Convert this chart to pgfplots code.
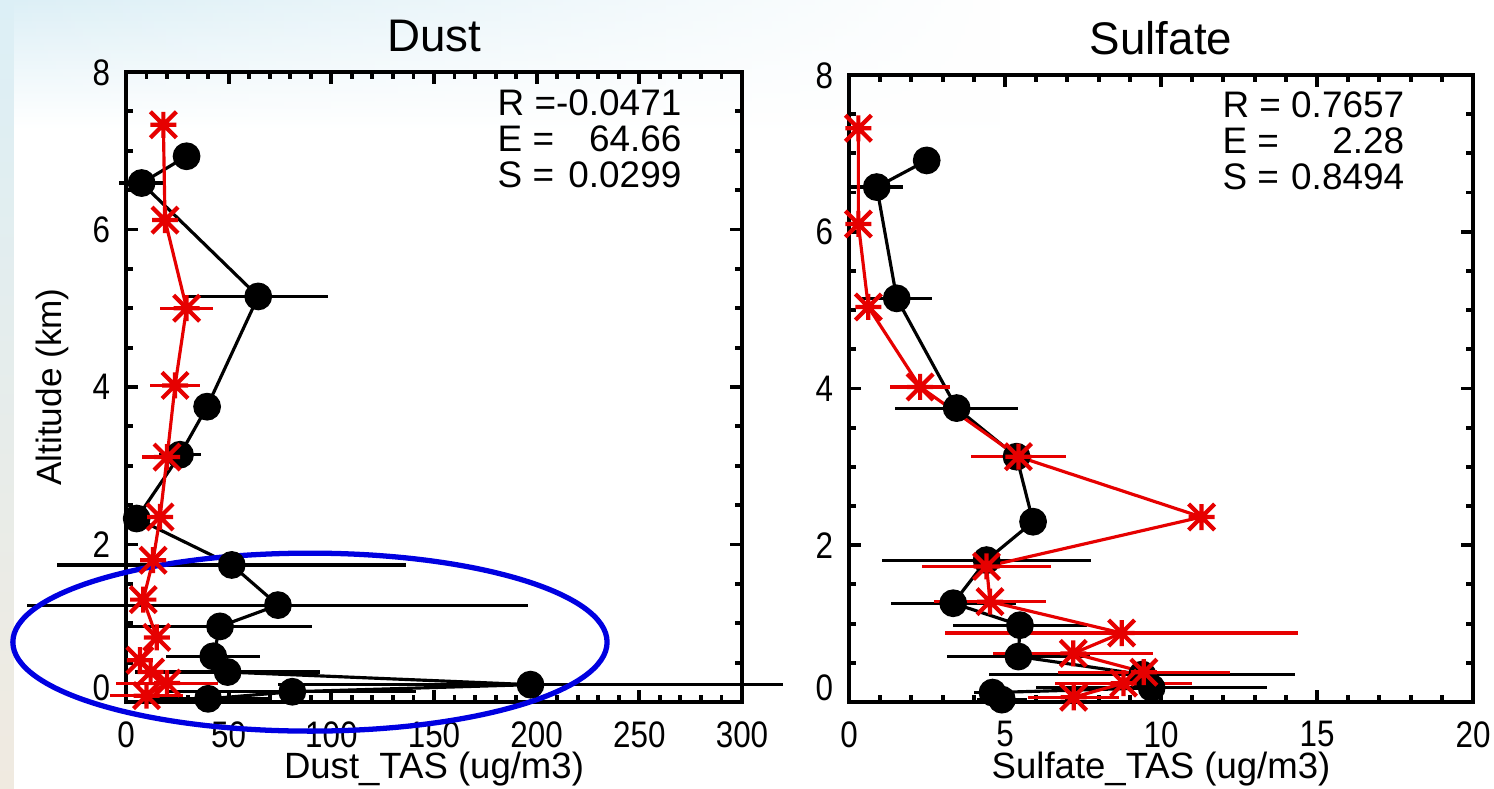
\documentclass[border=0pt]{standalone}
\usepackage{pgfplots}
\pgfplotsset{compat=1.18}
\usepackage{graphicx}
\usepackage{fontspec}
\setmainfont{Liberation Sans}
\usetikzlibrary{fadings}

\pgfdeclareplotmark{idlstar}{%
  \pgfpathmoveto{\pgfqpoint{-\pgfplotmarksize}{0pt}}\pgfpathlineto{\pgfqpoint{\pgfplotmarksize}{0pt}}%
  \pgfpathmoveto{\pgfqpoint{0pt}{-\pgfplotmarksize}}\pgfpathlineto{\pgfqpoint{0pt}{\pgfplotmarksize}}%
  \pgfpathmoveto{\pgfqpoint{-\pgfplotmarksize}{-\pgfplotmarksize}}\pgfpathlineto{\pgfqpoint{\pgfplotmarksize}{\pgfplotmarksize}}%
  \pgfpathmoveto{\pgfqpoint{-\pgfplotmarksize}{\pgfplotmarksize}}\pgfpathlineto{\pgfqpoint{\pgfplotmarksize}{-\pgfplotmarksize}}%
  \pgfusepathqstroke}

\definecolor{ellblue}{RGB}{0,0,225}
\definecolor{idlred}{RGB}{230,0,0}
\definecolor{bgtint}{RGB}{220,239,246}
\definecolor{bgbeige}{RGB}{240,234,224}

\pgfplotstableread{
x y ex
29.5 6.93 0
7.6 6.59 11
64.4 5.15 34
39.5 3.75 0
26.3 3.14 10
5.2 2.33 0
51.5 1.74 85
74 1.23 122
45.8 0.96 45
42.5 0.58 23
49.5 0.38 45
197 0.22 123
81 0.13 60
40 0.04 30
}\dustobs
\pgfplotstableread{
x y ex
18.2 7.33 0
19 6.12 0
29.5 5.0 13
23.9 4.02 12
20 3.11 12
16.6 2.35 5
13.2 1.8 4
8.4 1.3 4
15 0.82 4
6.8 0.53 4
12 0.38 5
20 0.24 25
10 0.08 18
}\dustmod
\pgfplotstableread{
x y ex
2.49 6.91 0
0.89 6.57 0.83
1.53 5.15 1.12
3.45 3.75 1.97
5.37 3.13 0
5.9 2.30 0
4.41 1.81 3.36
3.34 1.26 2.0
5.48 0.98 2.16
5.43 0.58 2.28
9.4 0.35 4.9
9.7 0.18 3.7
4.6 0.12 0.6
4.9 0.03 0.8
}\sulfobs
\pgfplotstableread{
x y ex
0.3 7.32 0
0.3 6.1 0
0.62 5.04 0
2.28 4.02 0.96
5.43 3.13 1.52
11.3 2.36 0
4.41 1.73 2.07
4.52 1.28 1.8
8.74 0.88 5.65
7.19 0.62 2.56
9.45 0.38 2.75
8.8 0.24 2.2
7.2 0.06 1.45
}\sulfmod

\pgfplotsset{
  idlaxis/.style={
    scale only axis,
    clip=false,
    ymin=0, ymax=8,
    ytick={0,2,4,6,8},
    yticklabels={\raisebox{0.14cm}{\scalebox{0.85}[1]{0}},\scalebox{0.85}[1]{2},\scalebox{0.85}[1]{4},\scalebox{0.85}[1]{6},\scalebox{0.85}[1]{8}},
    minor y tick num=3,
    tick align=inside,
    major tick length=0.12cm,
    minor tick length=0.07cm,
    axis line style={line width=1.2pt},
    every tick/.style={line width=1.1pt, black},
    tick label style={font=\fontsize{10.5}{12}\selectfont},
    /pgf/number format/assume math mode=true,
    yticklabel style={anchor=base east, yshift=-3.7pt, xshift=-1pt},
    xticklabel style={inner sep=0.8pt},
    xticklabel shift=0.16cm,
    xticklabel={\scalebox{0.85}[1]{\pgfmathprintnumber{\tick}}},
    title style={anchor=base, yshift=-0.01cm, font=\fontsize{13}{15}\selectfont},
    xlabel style={at={(axis description cs:0.5,0)}, anchor=base, yshift=-0.77cm, inner sep=0.8pt, font=\fontsize{10.4}{12}\selectfont},
    ylabel style={font=\fontsize{10}{12}\selectfont},
  },
  obs/.style={black, line width=0.9pt, mark=*, mark size=3.5pt, mark options={fill=black, draw=black, solid},
    error bars/.cd, x dir=both, x explicit, error mark=none,
    error bar style={line width=0.9pt, black}},
  mod/.style={idlred, line width=0.9pt, mark=idlstar, mark size=3.7pt, mark options={line width=1.2pt, idlred, solid},
    error bars/.cd, x dir=both, x explicit, error mark=none,
    error bar style={line width=0.9pt, idlred}},
}

\begin{document}
\begin{tikzpicture}
\path[use as bounding box] (0,0) rectangle (14.94,7.89);
\fill[white] (0,0) rectangle (14.94,7.89);
\shade[top color=bgtint, bottom color=white, path fading=east] (0,6.6) rectangle (10,7.89);
\shade[top color=bgtint, bottom color=bgbeige] (0,0) rectangle (0.14,7.89);

\begin{axis}[idlaxis,
  at={(1.26cm,0.87cm)}, anchor=south west,
  width=6.16cm, height=6.30cm,
  xmin=0, xmax=300,
  xtick={0,50,...,300},
  minor x tick num=4,
  title={Dust},
  xlabel={Dust\_TAS (ug/m3)},
  ylabel={Altitude (km)},
  ylabel style={at={(axis description cs:-0.12,0.5)}, anchor=center, rotate=0},
]
\addplot+[obs] table[x=x, y=y, x error=ex] {\dustobs};
\addplot+[mod] table[x=x, y=y, x error=ex] {\dustmod};
\node[anchor=north west, inner sep=0pt, font=\fontsize{10.5}{9.9}\selectfont] at (axis cs:180.7,7.79)
  {\begin{tabular}{@{}l@{}r@{}}R =&-0.0471\\E =&64.66\\S =&0.0299\end{tabular}};
\draw[line width=1.5pt, ellblue] (axis cs:89.6,0.76) ellipse [x radius=144.7, y radius=1.13];
\end{axis}

\begin{axis}[idlaxis,
  at={(8.49cm,0.87cm)}, anchor=south west,
  width=6.24cm, height=6.27cm,
  xmin=0, xmax=20,
  xtick={0,5,...,20},
  minor x tick num=4,
  title={Sulfate},
  xlabel={Sulfate\_TAS (ug/m3)},
]
\addplot+[obs] table[x=x, y=y, x error=ex] {\sulfobs};
\addplot+[mod] table[x=x, y=y, x error=ex] {\sulfmod};
\node[anchor=north west, inner sep=0pt, font=\fontsize{10.5}{9.9}\selectfont] at (axis cs:11.95,7.8)
  {\begin{tabular}{@{}l@{}r@{}}R =&\ 0.7657\\E =&2.28\\S =&\ 0.8494\end{tabular}};
\end{axis}
\end{tikzpicture}
\end{document}
